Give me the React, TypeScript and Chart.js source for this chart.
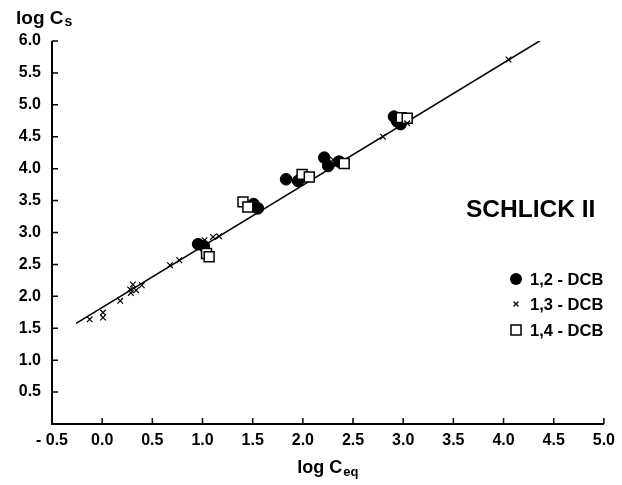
import React, { useEffect, useRef } from 'react';
import { Chart, registerables } from 'chart.js';

Chart.register(...registerables);

// 1,2 - DCB (filled circles)
const dcb12X = [0.956, 1.013, 1.509, 1.552, 1.833, 1.952, 2.213, 2.253, 2.362, 2.908, 2.941, 2.974];
const dcb12Y = [2.817, 2.786, 3.446, 3.378, 3.834, 3.807, 4.173, 4.042, 4.11, 4.816, 4.738, 4.697];

// 1,3 - DCB (crosses)
const dcb13X = [-0.125, 0.008, 0.008, 0.18, 0.279, 0.306, 0.286, 0.338, 0.395, 0.676, 0.768, 1.02, 1.105, 1.165, 2.3, 2.799, 3.04, 4.05];
const dcb13Y = [1.64, 1.745, 1.667, 1.93, 2.107, 2.185, 2.053, 2.096, 2.174, 2.488, 2.567, 2.88, 2.93, 2.94, 4.14, 4.5, 4.71, 5.71];

// 1,4 - DCB (open squares)
const dcb14X = [1.04, 1.066, 1.403, 1.452, 1.992, 2.064, 2.412, 2.98, 3.04];
const dcb14Y = [2.67, 2.62, 3.48, 3.4, 3.91, 3.87, 4.08, 4.8, 4.79];

// regression line end points
const fitX = [-0.26, 4.38];
const fitY = [1.577, 6.02];

const xTickLabels = ['- 0.5', '0.0', '0.5', '1.0', '1.5', '2.0', '2.5', '3.0', '3.5', '4.0', '4.5', '5.0'];
const yTickLabels = ['', '0.5', '1.0', '1.5', '2.0', '2.5', '3.0', '3.5', '4.0', '4.5', '5.0', '5.5', '6.0'];

const legendLabels = ['1,2 - DCB', '1,3 - DCB', '1,4 - DCB'];
const annotationText = 'SCHLICK II';

const FONT = '"Liberation Sans", Arial, Helvetica, sans-serif';

const zip = (xs: number[], ys: number[]) => xs.map((x, i) => ({ x, y: ys[i] }));

const decorPlugin = {
  id: 'decor',
  afterDraw(chart: any) {
    const { ctx, chartArea, scales } = chart;
    const xs = scales.x;
    const ys = scales.y;
    ctx.save();
    ctx.strokeStyle = '#000';
    ctx.lineWidth = 2;
    // axes
    ctx.beginPath();
    ctx.moveTo(chartArea.left, ys.getPixelForValue(6));
    ctx.lineTo(chartArea.left, chartArea.bottom);
    ctx.lineTo(xs.getPixelForValue(5), chartArea.bottom);
    ctx.stroke();
    // inward ticks
    ctx.lineWidth = 1.5;
    ctx.beginPath();
    xs.ticks.forEach((t: any, i: number) => {
      if (i === 0) return;
      const px = xs.getPixelForValue(t.value);
      ctx.moveTo(px, chartArea.bottom);
      ctx.lineTo(px, chartArea.bottom - 6);
    });
    ys.ticks.forEach((t: any, i: number) => {
      if (i === 0) return;
      const py = ys.getPixelForValue(t.value);
      ctx.moveTo(chartArea.left, py);
      ctx.lineTo(chartArea.left + 6, py);
    });
    ctx.stroke();

    ctx.fillStyle = '#000';
    ctx.textBaseline = 'alphabetic';
    ctx.textAlign = 'left';
    // y title: log Cs
    ctx.font = `bold 19px ${FONT}`;
    ctx.fillText('log C', 16, 24);
    const w1 = ctx.measureText('log C').width;
    ctx.font = `bold 14px ${FONT}`;
    ctx.fillText('s', 16 + w1 + 1, 26);

    // x title: log Ceq
    ctx.font = `bold 18px ${FONT}`;
    const a = ctx.measureText('log C').width;
    ctx.font = `bold 13px ${FONT}`;
    const b = ctx.measureText('eq').width;
    const cx = (chartArea.left + chartArea.right) / 2;
    const startX = cx - (a + b + 1) / 2;
    ctx.font = `bold 18px ${FONT}`;
    ctx.fillText('log C', startX, 473);
    ctx.font = `bold 13px ${FONT}`;
    ctx.fillText('eq', startX + a + 1, 476);

    // annotation
    ctx.font = `bold 24.5px ${FONT}`;
    ctx.fillText(annotationText, 466, 217);

    // legend
    const lx = 516;
    const rows = [279, 304, 330];
    ctx.font = `bold 16.5px ${FONT}`;
    ctx.textBaseline = 'middle';
    legendLabels.forEach((lab, i) => {
      const ly = rows[i];
      ctx.fillText(lab, 530, ly + 1);
    });
    // circle
    ctx.beginPath();
    ctx.arc(lx, rows[0], 6, 0, Math.PI * 2);
    ctx.fill();
    // cross
    ctx.lineWidth = 1.2;
    ctx.beginPath();
    ctx.moveTo(lx - 2.5, rows[1] - 2.5);
    ctx.lineTo(lx + 2.5, rows[1] + 2.5);
    ctx.moveTo(lx + 2.5, rows[1] - 2.5);
    ctx.lineTo(lx - 2.5, rows[1] + 2.5);
    ctx.stroke();
    // square
    ctx.lineWidth = 1.5;
    ctx.fillStyle = '#fff';
    ctx.fillRect(lx - 5, rows[2] - 5, 10, 10);
    ctx.strokeRect(lx - 5, rows[2] - 5, 10, 10);
    ctx.restore();
  },
};

export default function App() {
  const ref = useRef<HTMLCanvasElement | null>(null);
  useEffect(() => {
    document.body.style.margin = '0';
    const canvas = ref.current;
    if (!canvas) return;
    const chart = new Chart(canvas, {
      type: 'scatter',
      data: {
        datasets: [
          {
            label: legendLabels[1],
            data: zip(dcb13X, dcb13Y),
            pointStyle: 'crossRot',
            pointRadius: 4,
            borderColor: '#000',
            borderWidth: 1.2,
            backgroundColor: '#000',
            order: 0,
          },
          {
            label: legendLabels[2],
            data: zip(dcb14X, dcb14Y),
            pointStyle: 'rect',
            pointRadius: 7,
            borderColor: '#000',
            borderWidth: 1.5,
            backgroundColor: '#fff',
            order: 1,
          },
          {
            label: legendLabels[0],
            data: zip(dcb12X, dcb12Y),
            pointStyle: 'circle',
            pointRadius: 5.8,
            borderColor: '#000',
            borderWidth: 1,
            backgroundColor: '#000',
            order: 2,
          },
          {
            type: 'line',
            label: 'fit',
            data: zip(fitX, fitY),
            borderColor: '#000',
            borderWidth: 1.6,
            pointRadius: 0,
            showLine: true,
            fill: false,
            order: 3,
          } as any,
        ],
      },
      options: {
        animation: false,
        responsive: false,
        devicePixelRatio: 1,
        layout: { padding: { left: 0, top: 41, right: 16, bottom: 0 } },
        plugins: { legend: { display: false }, tooltip: { enabled: false } },
        scales: {
          x: {
            type: 'linear',
            min: -0.5,
            max: 5,
            afterFit: (s: any) => {
              s.height = 61;
            },
            ticks: {
              stepSize: 0.5,
              autoSkip: false,
              maxRotation: 0,
              padding: 7,
              color: '#000',
              font: { family: FONT, size: 16, weight: 'bold' },
              callback: (_v: any, i: number) => xTickLabels[i],
            },
            grid: { display: false, drawTicks: false },
            border: { display: false },
          },
          y: {
            type: 'linear',
            min: 0,
            max: 6,
            afterFit: (s: any) => {
              s.width = 52;
            },
            ticks: {
              stepSize: 0.5,
              autoSkip: false,
              padding: 11,
              color: '#000',
              font: { family: FONT, size: 16, weight: 'bold' },
              callback: (_v: any, i: number) => yTickLabels[i],
            },
            grid: { display: false, drawTicks: false },
            border: { display: false },
          },
        },
      },
      plugins: [decorPlugin],
    });
    return () => chart.destroy();
  }, []);
  return (
    <div style={{ width: 622, height: 485 }}>
      <canvas ref={ref} width={622} height={485} />
    </div>
  );
}
